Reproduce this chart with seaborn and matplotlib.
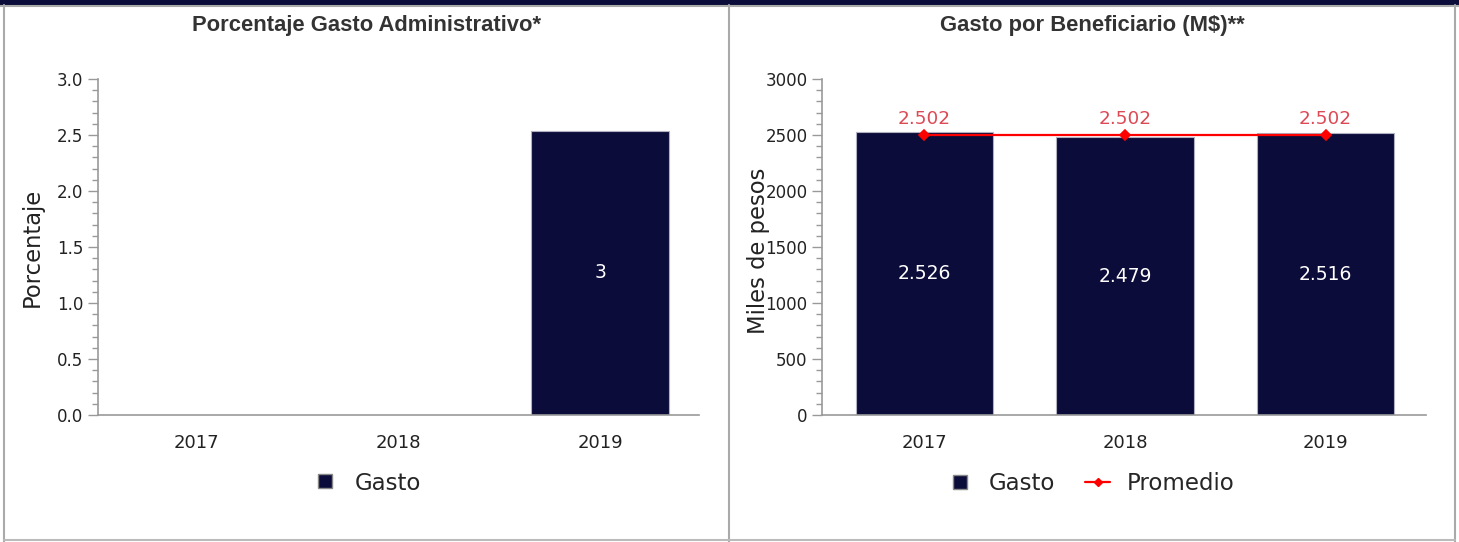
import numpy as np
import pandas as pd
import matplotlib
matplotlib.use('Agg')
import matplotlib.pyplot as plt
from matplotlib.lines import Line2D
from matplotlib.patches import Rectangle
from matplotlib.ticker import MultipleLocator
import seaborn as sns

# data
years = ['2017', '2018', '2019']
pct_admin = [np.nan, np.nan, 2.54]
pct_labels = ['', '', '3']
gasto_benef = [2526, 2479, 2516]
promedio = [2502, 2502, 2502]

navy = '#0c0c3a'
grey = '#999999'
txt = '#333333'

sns.set_style('white')
plt.rcParams['font.family'] = ['DejaVu Sans']


def miles(v):
    return f'{v:,}'.replace(',', '.')


def style_axis(ax, major, minor, fmt):
    sns.despine(ax=ax)
    for s in ['left', 'bottom']:
        ax.spines[s].set_color(grey)
        ax.spines[s].set_linewidth(1.2)
    ax.yaxis.set_major_locator(MultipleLocator(major))
    ax.yaxis.set_minor_locator(MultipleLocator(minor))
    ax.yaxis.set_major_formatter(fmt)
    ax.tick_params(axis='y', which='major', length=7, width=1, color=grey,
                   labelsize=12, labelcolor='#222222', left=True)
    ax.tick_params(axis='y', which='minor', length=4, width=1, color=grey, left=True)
    ax.tick_params(axis='x', length=0, labelsize=13, labelcolor='#222222', pad=14)
    ax.set_xlabel('')


fig = plt.figure(figsize=(14.59, 5.42), dpi=100)
W, H = 1459, 542

ax1 = fig.add_axes([98 / W, 1 - 415 / H, 601 / W, 336 / H])
ax2 = fig.add_axes([822 / W, 1 - 415 / H, 604 / W, 336 / H])

# left panel
df1 = pd.DataFrame({'anio': years, 'valor': pct_admin})
sns.barplot(data=df1, x='anio', y='valor', order=years, color=navy,
            width=0.685, edgecolor='#b0b0c0', linewidth=0.8, saturation=1, ax=ax1)
for i, (v, lab) in enumerate(zip(pct_admin, pct_labels)):
    if lab:
        ax1.text(i, v / 2, lab, color='white', ha='center', va='center', fontsize=13.5)
ax1.set_ylim(0, 3.0)
ax1.set_xlim(-0.49, 2.49)
style_axis(ax1, 0.5, 0.1, '{x:.1f}')
ax1.set_ylabel('Porcentaje', fontsize=16.3, color='#222222')
ax1.yaxis.set_label_coords(-0.09, 0.5)

# right panel (the y label overlaps the tick labels, as in the original)
df2 = pd.DataFrame({'anio': years, 'valor': gasto_benef})
sns.barplot(data=df2, x='anio', y='valor', order=years, color=navy,
            width=0.685, edgecolor='#b0b0c0', linewidth=0.8, saturation=1, ax=ax2)
sns.pointplot(x=years, y=promedio, order=years, color='red', markers='D',
              markersize=5, linewidth=1.6, errorbar=None, ax=ax2)
for i, v in enumerate(gasto_benef):
    ax2.text(i, v / 2, miles(v), color='white', ha='center', va='center', fontsize=13.5)
for i, v in enumerate(promedio):
    ax2.annotate(miles(v), (i, v), xytext=(0, 11), textcoords='offset points',
                 ha='center', va='center', color='#dc4a56', fontsize=13.3)
ax2.set_ylim(0, 3000)
ax2.set_xlim(-0.51, 2.5)
style_axis(ax2, 500, 100, '{x:.0f}')
ax2.set_ylabel('Miles de pesos', fontsize=16.3, color='#222222')
ax2.yaxis.set_label_coords(-0.086, 0.49)

# titles
fig.text(366 / W, 1 - 25 / H, 'Porcentaje Gasto Administrativo*', ha='center', va='center',
         fontsize=15.8, fontweight='bold', color=txt, family='Liberation Sans')
fig.text(1092 / W, 1 - 25 / H, 'Gasto por Beneficiario (M$)**', ha='center', va='center',
         fontsize=15.8, fontweight='bold', color=txt, family='Liberation Sans')

# legends
h_gasto = Line2D([], [], marker='s', linestyle='none', markersize=10.5,
                 markerfacecolor=navy, markeredgecolor='#888888')
h_prom = Line2D([], [], color='red', marker='D', markersize=4, linewidth=1.6)
fig.legend([h_gasto], ['Gasto'], loc='center', bbox_to_anchor=(366 / W, 1 - 483 / H),
           frameon=False, fontsize=16.5, handlelength=1.2, handletextpad=0.7)
fig.legend([h_gasto, h_prom], ['Gasto', 'Promedio'], loc='center',
           bbox_to_anchor=(1091 / W, 1 - 484 / H), ncol=2, frameon=False, fontsize=16.5,
           handlelength=1.1, handletextpad=0.7, columnspacing=1.3)

# panel frames
fig.add_artist(Rectangle((0, 1 - 5 / H), 1, 5 / H, transform=fig.transFigure,
                         facecolor=navy, edgecolor='none'))
for x in [4, 729, 1455]:
    fig.add_artist(Line2D([x / W, x / W], [0, 1 - 5 / H], transform=fig.transFigure,
                          color='#aaaaaa', linewidth=1.5))
fig.add_artist(Line2D([4 / W, 1455 / W], [1 - 540 / H, 1 - 540 / H], transform=fig.transFigure,
                      color='#bbbbbb', linewidth=1.5))
fig.add_artist(Line2D([0, 1], [1 - 6 / H, 1 - 6 / H], transform=fig.transFigure,
                      color='#aaaaaa', linewidth=1.5))

fig.savefig('out.png', dpi=100)
